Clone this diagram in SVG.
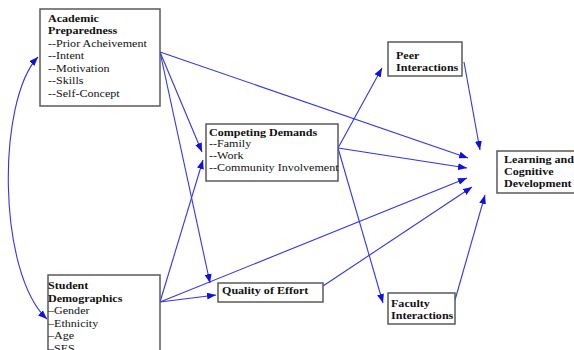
<svg xmlns="http://www.w3.org/2000/svg" width="574" height="350" viewBox="0 0 574 350">
<style>
.box{fill:#fff;stroke:#5a5a5a;stroke-width:1.5}
.t{font-family:"Liberation Serif","Times New Roman",serif;font-size:10.5px;fill:#111}
.b{font-weight:bold}
.c{fill:none;stroke:#3434e8;stroke-width:1.1}
</style>
<defs>
<marker id="ah" markerUnits="userSpaceOnUse" markerWidth="9" markerHeight="7" refX="9" refY="3.5" orient="auto-start-reverse">
<path d="M0,0 L9,3.5 L0,7 z" fill="#1010e0"/>
</marker>
</defs>
<rect width="574" height="350" fill="#fff"/>
<g id="connectors">
<path class="c" marker-end="url(#ah)" d="M160,52 L468,158"/>
<path class="c" marker-end="url(#ah)" d="M160,52 L202,152"/>
<path class="c" marker-end="url(#ah)" d="M160,52 L210,283"/>
<path class="c" marker-end="url(#ah)" d="M338,148 L382,68"/>
<path class="c" marker-end="url(#ah)" d="M338,148 L467,168"/>
<path class="c" marker-end="url(#ah)" d="M338,148 L383,303"/>
<path class="c" marker-end="url(#ah)" d="M464,62 L480,150"/>
<path class="c" marker-end="url(#ah)" d="M160,302 L203,160"/>
<path class="c" marker-end="url(#ah)" d="M160,302 L216,295"/>
<path class="c" marker-end="url(#ah)" d="M160,302 L467,178"/>
<path class="c" marker-end="url(#ah)" d="M323,286 L472,187"/>
<path class="c" marker-end="url(#ah)" d="M455,300 L485,195"/>
<path class="c" marker-start="url(#ah)" marker-end="url(#ah)" d="M38,57 C-3,100 -3,272 47,319"/>
</g>
<g id="academic">
<rect class="box" x="40" y="9" width="120" height="97"/>
<g transform="translate(48,0) scale(1.15,1)">
<text class="t b" x="0" y="22">Academic</text>
<text class="t b" x="0" y="34.5">Preparedness</text>
<text class="t" x="0" y="47">--Prior Acheivement</text>
<text class="t" x="0" y="59.5">--Intent</text>
<text class="t" x="0" y="72">--Motivation</text>
<text class="t" x="0" y="84.5">--Skills</text>
<text class="t" x="0" y="97">--Self-Concept</text>
</g>
</g>
<g id="demographics">
<rect class="box" x="48" y="275" width="112" height="90"/>
<g transform="translate(48,0) scale(1.15,1)">
<text class="t b" x="0" y="289.5">Student</text>
<text class="t b" x="0" y="302">Demographics</text>
<text class="t" x="0" y="314.5">–Gender</text>
<text class="t" x="0" y="327">–Ethnicity</text>
<text class="t" x="0" y="339.5">–Age</text>
<text class="t" x="0" y="352">–SES</text>
</g>
</g>
<g id="competing">
<rect class="box" x="206" y="124" width="132" height="57"/>
<g transform="translate(209,0) scale(1.15,1)">
<text class="t b" x="0" y="136">Competing Demands</text>
<text class="t" x="0" y="147.5">--Family</text>
<text class="t" x="0" y="159">--Work</text>
<text class="t" x="0" y="171">--Community Involvement</text>
</g>
</g>
<g id="quality">
<rect class="box" x="218" y="283" width="105" height="19"/>
<g transform="translate(222,0) scale(1.15,1)">
<text class="t b" x="0" y="294.5">Quality of Effort</text>
</g>
</g>
<g id="peer">
<rect class="box" x="388" y="42" width="74" height="34"/>
<g transform="translate(396,0) scale(1.15,1)">
<text class="t b" x="0" y="59">Peer</text>
<text class="t b" x="0" y="71">Interactions</text>
</g>
</g>
<g id="faculty">
<rect class="box" x="388" y="293" width="67" height="31"/>
<g transform="translate(391,0) scale(1.15,1)">
<text class="t b" x="0" y="307">Faculty</text>
<text class="t b" x="0" y="319">Interactions</text>
</g>
</g>
<g id="learning">
<rect class="box" x="497" y="151" width="82" height="42"/>
<g transform="translate(504,0) scale(1.15,1)">
<text class="t b" x="0" y="163">Learning and</text>
<text class="t b" x="0" y="175">Cognitive</text>
<text class="t b" x="0" y="187">Development</text>
</g>
</g>
</svg>
